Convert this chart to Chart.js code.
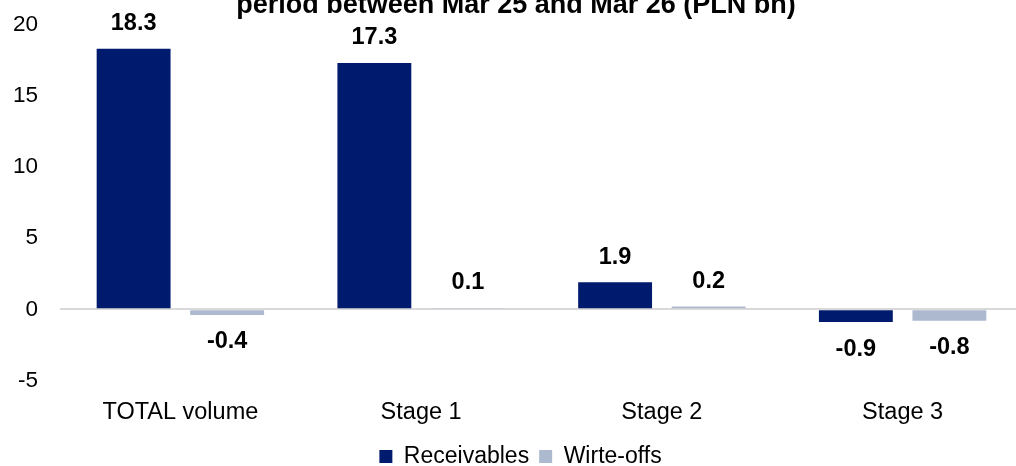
<!DOCTYPE html>
<html>
<head>
<meta charset="utf-8">
<script src="https://cdn.jsdelivr.net/npm/chart.js@4"></script>
<style>
	html, body { margin: 0; padding: 0; background: #fff; overflow: hidden; }
	#wrap { width: 1016px; height: 466px; overflow: hidden; }
</style>
</head>
<body>
<div id="wrap"><canvas id="chart" width="1024" height="478"></canvas></div>
<script>
const categories = ["TOTAL volume", "Stage 1", "Stage 2", "Stage 3"];
const receivables = [18.3, 17.3, 1.9, -0.9];
const writeOffs = [-0.4, 0.1, 0.2, -0.8];
const yTicks = [-5, 0, 5, 10, 15, 20];
const titleText = "period between Mar 25 and Mar 26 (PLN bn)";

const FONT = "'Liberation Sans', Arial, sans-serif";

// Title sits partly above the top edge, as in the source image
const clippedTitle = {
	id: "clippedTitle",
	afterDraw(chart) {
		const ctx = chart.ctx;
		ctx.save();
		ctx.font = `bold 27px ${FONT}`;
		ctx.fillStyle = "#000";
		ctx.textAlign = "center";
		ctx.textBaseline = "alphabetic";
		ctx.fillText(titleText, 516, 13);
		ctx.restore();
	},
};

// Nudge the legend a little to the right
const legendShift = {
	id: "legendShift",
	afterLayout(chart) {
		if (chart.legend) {
			chart.legend.left += 9;
			chart.legend.right += 9;
		}
	},
};

// Draw value labels above / below each bar
const valueLabels = {
	id: "valueLabels",
	afterDatasetsDraw(chart) {
		const ctx = chart.ctx;
		ctx.save();
		ctx.font = `bold 23.5px ${FONT}`;
		ctx.fillStyle = "#000";
		ctx.textAlign = "center";
		ctx.textBaseline = "middle";
		chart.data.datasets.forEach((ds, i) => {
			const meta = chart.getDatasetMeta(i);
			meta.data.forEach((bar, j) => {
				const v = ds.data[j];
				const y = v >= 0 ? bar.y - 25 : bar.y + 27;
				ctx.fillText(v.toFixed(1), bar.x, y);
			});
		});
		ctx.restore();
	},
};

new Chart(document.getElementById("chart"), {
	type: "bar",
	data: {
		labels: categories,
		datasets: [
			{
				label: "Receivables",
				data: receivables,
				backgroundColor: "#001a6e",
				categoryPercentage: 0.777,
				barPercentage: 0.79,
			},
			{
				label: "Wirte-offs",
				data: writeOffs,
				backgroundColor: "#adb9ce",
				categoryPercentage: 0.777,
				barPercentage: 0.79,
			},
		],
	},
	options: {
		responsive: false,
		animation: false,
		layout: { padding: { left: 0, right: 1, top: 24.5, bottom: 0 } },
		plugins: {
			title: { display: false },
			legend: {
				position: "bottom",
				labels: {
					font: { family: FONT, size: 23 },
					color: "#000",
					boxWidth: 13,
					boxHeight: 13,
					padding: 10,
				},
			},
			tooltip: { enabled: false },
		},
		scales: {
			x: {
				grid: { display: false },
				border: { display: false },
				ticks: { font: { family: FONT, size: 23.5 }, color: "#000", padding: 10 },
				afterFit: (scale) => {
					scale.height = 54.5;
				},
			},
			y: {
				min: -5,
				max: 20,
				afterBuildTicks: (scale) => {
					scale.ticks = yTicks.map((v) => ({ value: v }));
				},
				grid: {
					drawTicks: false,
					color: (c) => (c.tick && c.tick.value === 0 ? "#d9d9d9" : "rgba(0,0,0,0)"),
					lineWidth: 2,
				},
				border: { display: false },
				ticks: { font: { family: FONT, size: 22.5 }, color: "#000", padding: 22 },
				afterFit: (scale) => {
					scale.width = 60;
					scale.paddingTop = 0;
					scale.paddingBottom = 0;
				},
			},
		},
	},
	plugins: [valueLabels, clippedTitle, legendShift],
});
</script>
</body>
</html>
